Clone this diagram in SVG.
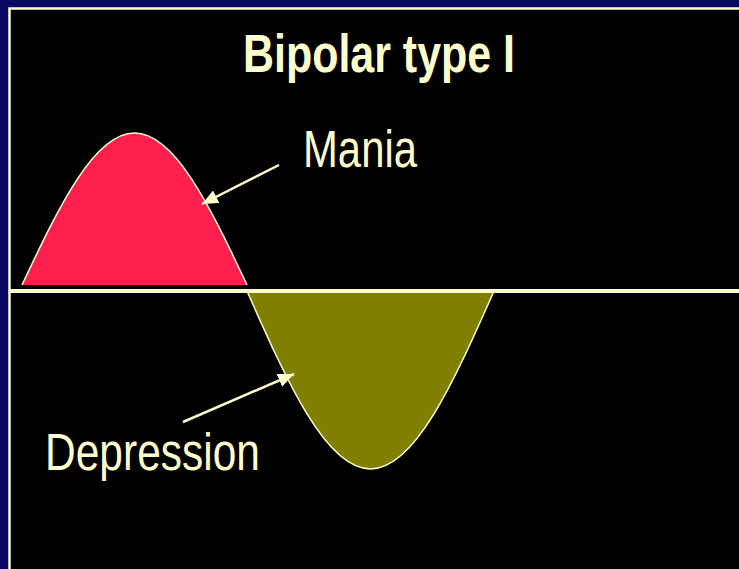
<svg xmlns="http://www.w3.org/2000/svg" width="739" height="569" viewBox="0 0 739 569">
<style>
.txt{fill:#FFFFCC;font-family:"Liberation Sans",Arial,sans-serif}
.outline{fill:none;stroke:#FFFFCC;stroke-width:1.5}
.conn{stroke:#FFFFCC;stroke-width:2.5;fill:none}
</style>
<defs>
<marker id="ah" markerUnits="userSpaceOnUse" markerWidth="17" markerHeight="15" refX="16" refY="7" orient="auto">
<path d="M0,0 L16,7 L0,14 z" fill="#FFFFCC"/>
</marker>
</defs>
<rect x="0" y="0" width="739" height="569" fill="#080862"/>
<rect x="9.5" y="8.5" width="740" height="570" fill="#000000" stroke="#FFFFCC" stroke-width="2.5"/>
<g id="title">
<text class="txt" x="243" y="72" font-size="53" font-weight="bold" textLength="272" lengthAdjust="spacingAndGlyphs">Bipolar type I</text>
</g>
<g id="mania-wave">
<path d="M22,285 C58.7,207.1 94,133 134.5,133 C175,133 210.3,207.1 247,285 Z" fill="#FF2050"/>
<path class="outline" d="M22,285 C58.7,207.1 94,133 134.5,133 C175,133 210.3,207.1 247,285"/>
</g>
<g id="depression-wave">
<path d="M247,291 C287.3,382.2 326,469 370.5,469 C415,469 453.7,382.2 494,291 Z" fill="#808000"/>
<path class="outline" d="M247,291 C287.3,382.2 326,469 370.5,469 C415,469 453.7,382.2 494,291"/>
</g>
<g id="baseline">
<line x1="10" y1="291" x2="739" y2="291" stroke="#FFFFCC" stroke-width="4"/>
</g>
<g id="mania-label">
<text class="txt" x="303" y="167" font-size="51" textLength="114" lengthAdjust="spacingAndGlyphs">Mania</text>
</g>
<g id="depression-label">
<text class="txt" x="45" y="470" font-size="51" textLength="215" lengthAdjust="spacingAndGlyphs">Depression</text>
</g>
<g id="connectors">
<line class="conn" x1="279" y1="165" x2="202" y2="204" marker-end="url(#ah)"/>
<line class="conn" x1="183" y1="422" x2="294" y2="374" marker-end="url(#ah)"/>
</g>
</svg>
